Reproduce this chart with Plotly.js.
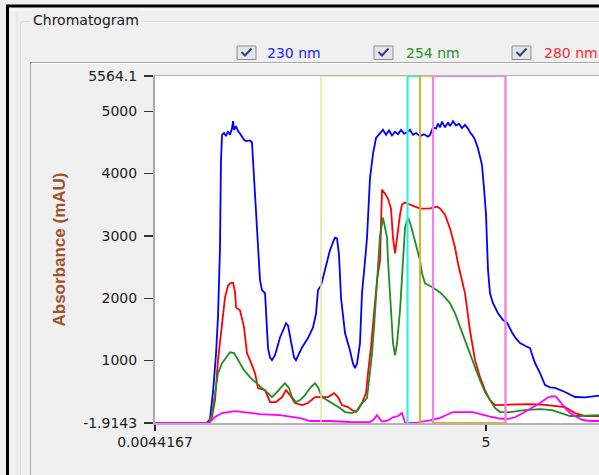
<!DOCTYPE html>
<html><head><meta charset="utf-8">
<script src="https://cdn.plot.ly/plotly-3.0.1.min.js"></script>
<style>html,body{margin:0;padding:0;background:#f0f0f0;overflow:hidden}#chart{width:599px;height:475px}</style>
</head><body><div id="chart"></div>
<script>
// ---------- data ----------
const seriesNames = ['230 nm', '254 nm', '280 nm', 'Channel 4'];

const time230 = [0.004,0.789,0.834,0.880,0.925,0.955,0.985,1.000,1.016,1.046,
1.076,1.106,1.136,1.166,1.182,1.197,1.227,1.257,1.287,1.317,
1.348,1.378,1.438,1.468,1.499,1.529,1.559,1.589,1.619,1.665,
1.710,1.740,1.770,1.815,1.891,1.982,2.012,2.057,2.102,2.132,
2.178,2.223,2.313,2.389,2.434,2.464,2.510,2.570,2.645,2.691,
2.721,2.751,2.781,2.812,2.872,2.947,2.993,3.023,3.053,3.098,
3.128,3.174,3.204,3.249,3.295,3.340,3.400,3.445,3.491,3.536,
3.581,3.627,3.672,3.717,3.762,3.808,3.853,3.898,3.944,4.004,
4.064,4.125,4.155,4.200,4.245,4.276,4.306,4.336,4.381,4.426,
4.457,4.502,4.547,4.592,4.638,4.683,4.728,4.758,4.804,4.834,
4.879,4.909,4.939,4.970,5.000,5.015,5.030,5.060,5.105,5.181,
5.256,5.317,5.392,5.453,5.513,5.604,5.664,5.709,5.739,5.815,
5.890,5.966,6.041,6.192,6.343,6.494,6.720];
const abs230 = [0,0,60,500,1100,1700,2800,4200,4620,4650,
4600,4680,4620,4720,4840,4700,4760,4680,4640,4600,
4540,4520,4530,4500,3890,3300,2700,2290,2130,2080,
1200,1050,1006,1085,1370,1600,1560,1280,1050,1006,
1100,1210,1360,1530,1750,2125,2205,2450,2770,2900,
2970,2960,2700,2000,1440,1160,950,880,950,1280,
2080,2600,2970,3930,4320,4570,4650,4700,4620,4690,
4610,4670,4630,4700,4640,4660,4700,4620,4650,4600,
4630,4590,4620,4740,4720,4800,4740,4830,4740,4820,
4760,4840,4770,4800,4730,4780,4720,4660,4600,4540,
4400,4250,4140,3760,3340,2880,2450,2080,1920,1760,
1650,1610,1450,1350,1280,1230,1200,1050,960,800,
605,570,560,495,415,410,440];

const time254 = [0.004,0.819,0.865,0.910,0.955,1.016,1.076,1.136,1.197,1.257,
1.348,1.438,1.529,1.619,1.710,1.770,1.831,1.906,1.966,2.027,
2.072,2.132,2.193,2.268,2.344,2.419,2.464,2.525,2.600,2.691,
2.796,2.872,2.978,3.068,3.128,3.204,3.249,3.279,3.310,3.340,
3.370,3.400,3.445,3.476,3.506,3.521,3.551,3.596,3.627,3.657,
3.702,3.732,3.762,3.778,3.823,3.853,3.898,3.959,4.004,4.034,
4.079,4.200,4.306,4.381,4.457,4.532,4.608,4.683,4.758,4.834,
4.909,4.985,5.060,5.136,5.211,5.362,5.588,5.815,5.996,6.117,
6.268,6.418,6.720];
const abs254 = [0,0,150,478,797,958,1054,1133,1120,1006,
846,733,638,558,478,414,478,574,638,558,
414,334,366,446,558,638,574,414,366,318,
238,174,158,206,318,398,846,1100,1533,2077,
2605,3000,3293,3133,2973,2600,2077,1277,1085,1277,
1805,2333,2700,3133,3293,3213,3037,2813,2605,2400,
2237,2173,2093,2013,1917,1757,1533,1325,1117,894,
686,494,366,238,174,174,206,220,206,158,
110,110,126];

const time280 = [0.004,0.819,0.865,0.910,0.955,1.016,1.061,1.106,1.136,1.182,
1.212,1.227,1.287,1.348,1.393,1.438,1.514,1.559,1.665,1.740,
1.831,1.921,1.982,2.042,2.117,2.223,2.313,2.419,2.525,2.615,
2.706,2.766,2.827,2.917,2.978,3.038,3.128,3.189,3.219,3.264,
3.310,3.355,3.400,3.415,3.430,3.476,3.521,3.566,3.596,3.627,
3.657,3.702,3.732,3.778,3.853,4.004,4.155,4.260,4.306,4.381,
4.457,4.532,4.577,4.608,4.683,4.758,4.834,4.909,4.985,5.060,
5.136,5.287,5.664,5.890,6.041,6.192,6.343,6.494,6.720];
const abs280 = [0,0,100,366,1006,1645,2013,2200,2237,2250,
2100,1853,1805,1533,1117,1006,797,558,526,334,
334,414,526,446,318,286,318,414,414,414,
478,414,286,254,206,174,318,478,797,1213,
1757,2285,2600,3200,3741,3677,3597,3437,2973,2717,
2973,3341,3501,3533,3501,3437,3440,3469,3440,3341,
3117,2813,2557,2400,2077,1485,1006,733,526,366,
286,290,302,290,270,254,157,110,110];

const timeCh4 = [0.004,0.819,0.910,1.016,1.212,1.363,1.589,1.891,2.193,2.344,
2.645,2.947,3.249,3.310,3.355,3.400,3.430,3.521,3.596,3.672,
3.732,3.762,3.778,3.959,4.004,4.155,4.306,4.502,4.653,4.804,
5.060,5.211,5.317,5.438,5.558,5.694,5.815,5.920,5.996,6.056,
6.117,6.192,6.268,6.373,6.464,6.569,6.720];
const absCh4 = [0,0,94,158,190,174,142,126,78,30,
30,14,10,60,126,60,20,40,90,110,
158,60,0,0,15,40,80,174,180,174,
100,70,62,90,158,240,318,400,430,420,
334,240,158,90,46,30,30];

const yTickValues = [-1.9143, 1000, 2000, 3000, 4000, 5000, 5564.1];
const yTickLabels = ['-1.9143', '1000', '2000', '3000', '4000', '5000', '5564.1'];
const xTickValues = [0.0044167, 5];
const xTickLabels = ['0.0044167', '5'];
const xRange = [0.0044167, 6.705];
const yRange = [-1.9143, 5564.1];

const fractionStart = [2.510, 3.815, 4.004, 4.200];
const fractionEnd   = [3.815, 4.004, 5.294, 5.294];

// ---------- styles ----------
const lineColors = ['#0000ff', '#228b22', '#ff0000', '#ff00ff'];
const legendTextColors = ['#2222ff', '#2e8f2e', '#ff2a2a'];
const fractionColors = ['#eee39a', '#22f2f2', '#ffa500', '#ee82ee'];
const fractionWidths = [1.5, 2, 1.6, 2.2];

const W = 599, H = 475, L = 155, T = 76, B = 52;
const PW = W - L, PH = H - T - B;
const px = x => (x - L) / PW;
const py = y => (T + PH - y) / PH;

const traces = [
  {x: time230, y: abs230, name: seriesNames[0], color: lineColors[0]},
  {x: time280, y: abs280, name: seriesNames[2], color: lineColors[2]},
  {x: time254, y: abs254, name: seriesNames[1], color: lineColors[1]},
  {x: timeCh4, y: absCh4, name: seriesNames[3], color: lineColors[3]}
].map(s => ({type: 'scatter', mode: 'lines', x: s.x, y: s.y, name: s.name,
  line: {color: s.color, width: 1.8}, hoverinfo: 'skip'}));

const shapes = [];
function pline(x0, y0, x1, y1, color, width) {
  shapes.push({type: 'line', xref: 'paper', yref: 'paper', layer: 'below',
    x0: px(x0), y0: py(y0), x1: px(x1), y1: py(y1), line: {color: color, width: width}});
}
// window frame
pline(6, 6, 620, 6, '#000000', 3);
pline(7.5, 5, 7.5, 480, '#000000', 3);
pline(10, 10, 620, 10, '#fafafa', 1);
pline(17, 12, 17, 480, '#e2e2e2', 1);
// group box
shapes.push({type: 'path', xref: 'paper', yref: 'paper', layer: 'below',
  path: `M ${px(20.5)},${py(480)} L ${px(20.5)},${py(24)} Q ${px(20.5)},${py(21.5)} ${px(23)},${py(21.5)} L ${px(620)},${py(21.5)}`,
  line: {color: '#d3dbe0', width: 1}});
// inner panel
pline(30.5, 62, 30.5, 480, '#a8a8a8', 1);
pline(30, 62.5, 620, 62.5, '#a8a8a8', 1);
pline(31, 63.5, 620, 63.5, '#ffffff', 1);

// legend check boxes
const boxLeft = [237, 374, 512];
const textLeft = [265, 404, 542];
const annotations = [];
boxLeft.forEach((bx, i) => {
  shapes.push({type: 'rect', xref: 'paper', yref: 'paper', layer: 'below',
    x0: px(bx), x1: px(bx + 19), y0: py(46), y1: py(59.5),
    line: {color: '#8c8d8f', width: 1}, fillcolor: '#e3e5ea'});
  shapes.push({type: 'path', xref: 'paper', yref: 'paper', layer: 'below',
    path: `M ${px(bx + 4.5)},${py(52)} L ${px(bx + 8)},${py(55.5)} L ${px(bx + 14.5)},${py(48.5)}`,
    line: {color: '#2c427a', width: 2}});
  annotations.push({xref: 'paper', yref: 'paper', x: px(textLeft[i]), y: py(52.5),
    xanchor: 'left', yanchor: 'middle', showarrow: false, text: seriesNames[i],
    font: {family: 'DejaVu Sans', size: 14, color: legendTextColors[i]}});
});

// fraction markers (rectangles; only the orange fraction keeps a bottom edge,
// drawn under the last fraction as in the reference)
fractionStart.forEach((f0, i) => {
  shapes.push({type: 'rect', xref: 'x', yref: 'y', layer: 'above',
    x0: f0, x1: fractionEnd[i], y0: yRange[0] - 400, y1: yRange[1],
    line: {color: fractionColors[i], width: fractionWidths[i]}, fillcolor: 'rgba(0,0,0,0)'});
});
shapes.push({type: 'line', xref: 'x', yref: 'y', layer: 'above',
  x0: fractionStart[3], x1: fractionEnd[2], y0: yRange[0], y1: yRange[0],
  line: {color: fractionColors[2], width: 2}});

annotations.push({xref: 'paper', yref: 'paper', x: px(30), y: py(20), xanchor: 'left', yanchor: 'middle',
  showarrow: false, text: 'Chromatogram', bgcolor: '#f0f0f0', borderpad: 2,
  font: {family: 'DejaVu Sans', size: 14, color: '#1a1a1a'}});
annotations.push({xref: 'paper', yref: 'paper', x: px(59), y: py(249.5), xanchor: 'center', yanchor: 'middle',
  showarrow: false, text: 'Absorbance (mAU)', textangle: -90,
  font: {family: 'Liberation Sans, Arial, sans-serif', size: 17, weight: 'bold', color: '#a0522d'}});

const layout = {
  width: W, height: H,
  margin: {l: L, r: 0, t: T, b: B, pad: 0},
  paper_bgcolor: '#f0f0f0', plot_bgcolor: '#ffffff',
  showlegend: false,
  xaxis: {range: xRange, tickmode: 'array', tickvals: xTickValues, ticktext: xTickLabels,
    ticks: 'outside', ticklen: 6, tickwidth: 1.5, tickcolor: '#222222',
    tickfont: {family: 'DejaVu Sans', size: 14, color: '#1c1c1c'},
    showline: true, mirror: true, linecolor: '#b4b4b4', linewidth: 1.5,
    showgrid: false, zeroline: false, fixedrange: true},
  yaxis: {range: yRange, tickmode: 'array', tickvals: yTickValues, ticktext: yTickLabels,
    ticks: 'outside', ticklen: 9, tickwidth: 1.3, tickcolor: '#333333', ticklabelstandoff: 4,
    tickfont: {family: 'DejaVu Sans', size: 14, color: '#1c1c1c'},
    showline: true, linecolor: '#aaaaaa', linewidth: 2,
    showgrid: false, zeroline: false, fixedrange: true},
  shapes: shapes,
  annotations: annotations
};

Plotly.newPlot('chart', traces, layout, {displayModeBar: false, staticPlot: true});
</script>
</body></html>
